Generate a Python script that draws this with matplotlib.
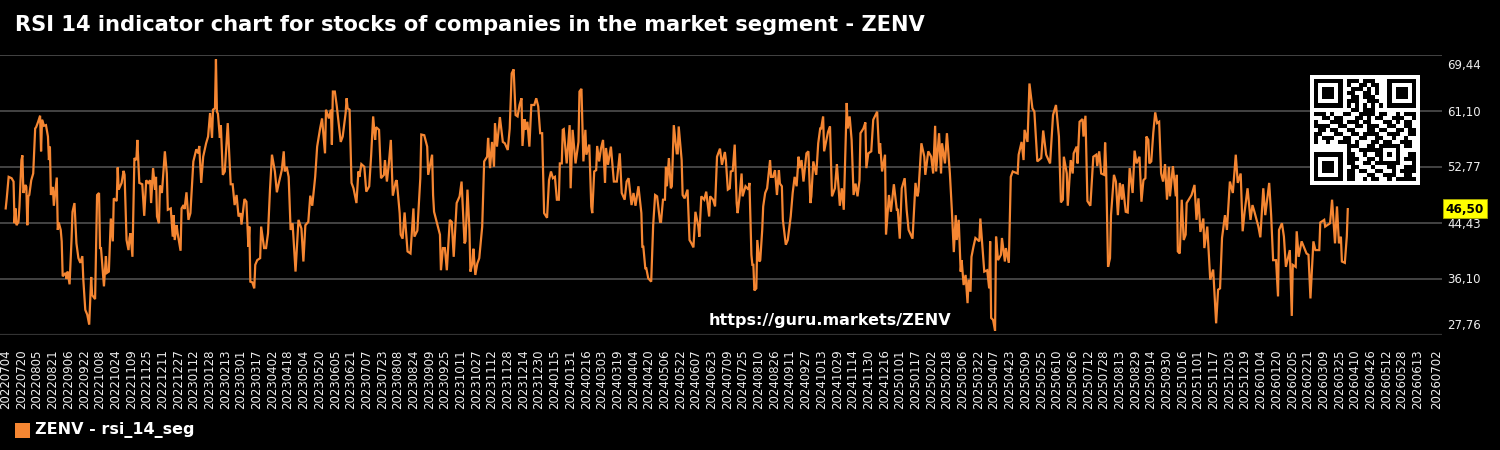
import matplotlib
matplotlib.use("Agg")
import matplotlib.pyplot as plt
from matplotlib.patches import Rectangle
import numpy as np
import pandas as pd

title = "RSI 14 indicator chart for stocks of companies in the market segment - ZENV"
legend_label = "ZENV - rsi_14_seg"
url_text = "https://guru.markets/ZENV"

start_date = "20220704"

# days since start_date
days = [
    0,1,3,6,8,9,10,11,13,14,
    16,17,18,20,21,22,23,24,26,28,
    30,31,33,35,36,37,39,41,43,44,
    45,46,48,49,52,53,54,56,57,58,
    61,62,63,65,67,68,70,72,74,76,
    78,79,81,83,85,87,88,91,93,95,
    96,97,100,102,103,105,107,109,110,113,
    114,115,118,120,121,123,125,126,127,129,
    131,133,134,136,139,141,143,145,147,148,
    150,152,153,154,156,157,159,162,164,165,
    168,170,171,172,174,175,178,179,181,182,
    184,186,188,190,191,194,196,197,199,201,
    204,206,208,210,211,213,214,215,216,218,
    219,221,223,226,229,231,233,235,237,239,
    240,243,245,247,248,249,251,253,254,256,
    259,260,263,265,267,269,271,274,276,278,
    281,283,284,286,288,290,292,295,298,301,
    303,305,308,310,312,315,317,320,322,325,
    326,329,331,332,333,335,337,338,341,343,
    346,347,348,350,352,354,357,359,
    360,362,365,367,370,372,374,376,377,380,
    382,385,386,388,390,392,394,397,398,401,
    402,404,406,409,412,415,416,419,422,423,
    426,429,430,434,435,436,439,442,443,445,
    447,449,452,454,456,459,462,464,467,468,
    470,472,473,475,476,478,480,482,485,487,
    490,491,493,495,497,498,500,503,506,508,
    511,513,515,517,519,521,523,525,526,528,
    529,531,533,535,538,540,542,544,546,548,
    551,553,555,557,559,561,563,564,566,567,
    568,571,574,575,577,580,583,584,586,588,
    590,591,594,596,597,599,601,602,604,606,
    608,610,611,613,616,619,622,625,627,630,
    632,634,637,639,641,644,647,648,649,651,
    652,654,657,659,661,663,666,667,669,671,
    672,673,675,677,678,680,683,684,685,688,
    689,691,694,696,698,700,702,705,706,708,
    711,713,716,717,720,722,724,
    727,729,732,733,735,737,738,740,742,744,
    745,747,749,750,753,756,757,759,760,761,
    762,764,765,767,768,770,771,773,775,778,
    779,781,783,785,787,788,790,791,794,796,
    799,801,803,805,807,808,810,812,815,817,
    819,820,822,825,827,829,830,832,833,837,
    839,841,844,846,849,851,853,856,857,859,
    861,863,865,867,869,870,873,875,876,878,
    881,883,887,889,890,892,895,896,899,901,
    904,907,908,910,912,915,917,919,923,926,
    928,929,932,935,936,939,942,944,946,947,
    950,952,953,956,958,961,963,965,967,968,
    970,972,973,975,977,979,980,982,983,985,
    987,991,992,996,999,1001,1002,1003,1005,1007,
    1008,1010,1013,1014,1017,1018,1021,1023,1025,1030,
    1031,1034,1036,1037,1040,1042,1045,1047,1050,1054,
    1056,1059,1063,1066,1069,1072,1074,1076,1077,1080,
    1081,1084,1086,1087,1090,1091,
    1093,1096,1097,1099,1101,1104,1107,1110,1111,1113,
    1115,1118,1119,1120,1122,1124,1125,1128,1130,1132,
    1134,1136,1137,1140,1142,1144,1147,1149,1151,1154,
    1156,1158,1160,1161,1163,1164,1166,1168,1170,1172,
    1174,1176,1178,1180,1182,1184,1185,1188,1191,1192,
    1193,1195,1197,1199,1201,1202,1207,1210,1212,1214,
    1216,1219,1220,1223,1226,1229,1231,1232,1234,1236,
    1238,1241,1243,1246,1249,1252,1254,1257,1259,1261,
    1264,1267,1269,1271,1275,1277,1280,1282,1286,1288,
    1290,1293,1295,1296,1299,1301,1303,1307,1309,1310,
    1313,1314,1316,1319,1324,1326,1328,1331,1333,1337,
    1338,1342,1343,1348,1350,1353,1355,1357,1359,1360,
    1363,1365,1366,
]

rsi_14_seg = [
    46.6,48.0,51.3,51.1,50.6,44.4,46.6,44.1,44.6,46.9,
    53.8,54.5,48.9,50.1,49.8,44.1,48.4,48.6,50.8,51.8,
    58.5,58.7,59.5,60.4,55.1,59.8,58.9,59.0,57.3,53.8,
    55.8,48.6,49.8,47.0,51.2,43.4,44.5,43.4,41.7,36.5,
    37.0,36.1,37.2,35.3,41.9,46.1,47.4,41.4,39.2,38.5,
    39.5,36.0,31.5,30.8,29.3,36.4,33.7,33.1,48.6,48.9,
    40.7,40.7,35.0,39.5,37.0,37.2,45.1,41.7,48.1,47.7,
    52.7,49.4,50.4,52.2,51.6,41.9,40.4,42.2,42.9,39.4,
    54.1,53.8,56.8,50.4,50.2,45.5,50.8,50.4,50.8,47.4,
    52.6,49.4,51.3,45.4,44.4,50.0,48.9,55.1,51.8,46.4,
    46.6,42.4,45.6,41.9,44.1,42.9,40.3,46.6,47.1,46.5,
    49.0,44.9,45.9,51.1,53.6,55.4,54.8,55.9,50.4,54.3,
    56.3,57.3,60.8,57.1,61.3,61.5,68.8,61.0,60.7,57.1,
    59.0,51.6,52.1,59.3,50.2,50.2,47.1,48.6,45.4,45.9,
    44.2,48.0,47.6,40.9,43.9,35.7,35.6,34.7,38.2,38.9,
    39.2,43.9,40.7,40.7,42.9,49.4,54.6,52.1,49.0,50.4,
    52.3,55.1,52.1,52.8,51.3,43.4,44.4,37.2,44.9,43.6,
    38.7,44.1,44.6,48.5,47.0,51.3,55.8,58.5,60.0,54.8,
    61.3,60.0,61.3,56.1,64.0,64.0,61.8,60.5,56.5,57.3,
    60.8,63.0,61.5,61.3,50.4,49.6,47.4,52.1,
    51.3,53.2,52.8,49.1,49.9,54.6,60.3,56.8,58.7,58.3,
    51.1,51.6,53.8,50.6,53.3,56.8,48.5,50.6,50.8,45.9,
    42.7,42.1,46.0,40.2,39.9,46.6,42.4,43.3,51.1,57.6,
    57.5,55.8,51.6,54.6,48.6,46.1,44.4,42.7,37.4,40.7,
    40.7,37.4,44.9,44.6,39.4,47.4,48.4,50.6,41.4,41.7,
    49.4,43.4,37.2,38.4,40.6,36.7,38.4,39.2,43.9,53.6,
    54.3,57.1,52.6,56.5,52.8,59.3,55.8,60.2,56.5,56.3,
    55.3,58.5,66.7,67.3,60.5,60.3,62.0,63.0,55.9,59.9,
    58.3,59.5,55.8,62.0,62.0,63.0,61.8,57.8,57.8,45.9,
    45.2,50.8,52.1,51.1,51.3,47.9,47.9,53.3,53.3,58.3,
    58.4,53.3,59.0,49.6,58.3,53.3,56.5,64.0,64.4,53.6,
    58.3,54.6,56.1,46.9,45.9,52.1,52.3,55.9,53.6,55.6,
    56.8,50.4,55.6,53.1,55.8,50.6,50.6,54.8,48.9,47.9,
    50.6,51.1,47.1,48.9,47.0,49.9,45.9,40.9,40.9,37.7,
    37.7,36.2,35.7,44.1,48.6,48.4,44.6,44.6,47.9,47.9,
    52.8,49.9,54.1,49.6,49.9,59.0,54.8,54.8,58.8,53.8,
    48.6,48.1,49.4,41.9,41.4,40.8,46.1,43.9,42.4,48.4,
    47.9,49.1,45.4,48.4,47.9,46.9,54.3,
    55.5,53.1,55.0,53.8,49.4,49.6,52.1,52.2,56.1,47.4,
    45.9,48.4,51.8,48.4,49.9,49.4,50.4,39.7,38.2,38.2,
    34.4,34.7,41.9,38.7,38.9,43.4,46.9,48.9,49.6,53.8,
    51.3,51.3,52.3,48.6,52.3,50.3,49.9,44.9,41.2,41.9,
    45.4,48.9,51.3,49.9,54.3,52.6,53.8,50.6,54.8,55.1,
    47.4,48.4,53.6,51.6,56.3,58.5,58.5,60.3,55.1,58.0,
    58.8,48.4,49.6,53.2,47.0,49.6,46.4,62.3,58.5,60.3,
    56.8,48.6,50.3,48.4,50.8,57.8,58.5,59.4,52.6,54.8,
    55.1,59.8,61.0,54.8,56.3,52.1,54.6,42.7,48.6,46.1,
    50.2,46.4,46.4,42.1,49.6,51.1,46.4,43.4,42.1,50.4,
    48.4,49.1,56.3,54.3,51.6,55.1,54.3,51.8,58.9,52.1,
    57.8,51.8,56.3,53.3,57.8,51.8,46.4,40.1,45.6,41.9,
    44.9,37.2,38.9,35.2,36.7,32.5,36.0,34.2,39.4,40.9,
    42.2,41.7,45.1,37.2,37.4,34.7,41.7,30.3,30.0,28.4,
    42.4,38.9,39.7,42.2,38.7,40.7,38.5,51.3,52.1,51.8,
    54.6,56.5,53.8,58.3,56.5,65.2,61.5,61.0,53.6,54.1,
    58.2,54.6,53.3,60.5,62.0,57.3,47.5,47.9,54.3,51.8,
    47.0,53.8,51.8,54.8,55.8,53.3,
    59.5,59.9,57.3,60.4,47.7,47.0,54.3,54.6,52.9,55.1,
    51.8,51.6,56.4,52.8,37.9,39.2,45.6,51.6,50.6,45.6,
    50.4,47.9,50.2,46.1,46.0,52.6,48.9,55.2,53.3,54.3,
    47.6,50.8,51.1,57.3,56.8,53.3,53.6,57.8,60.9,59.3,
    59.5,51.8,50.6,53.2,47.9,52.8,48.4,52.9,48.4,51.6,
    40.2,39.9,47.9,41.9,42.7,47.4,48.6,50.1,44.9,48.1,
    43.1,45.1,40.7,43.9,36.0,37.5,32.2,29.5,34.5,34.7,
    42.2,45.6,43.4,50.6,48.9,54.6,50.4,51.8,43.2,46.1,
    49.6,44.9,47.1,46.1,43.9,42.3,49.6,45.6,50.4,45.6,
    38.9,38.9,33.5,43.4,44.4,42.4,37.9,40.4,30.6,38.2,
    37.9,43.2,39.4,41.7,39.9,39.7,33.2,41.7,40.4,40.4,
    44.5,44.9,43.9,44.4,47.9,41.4,46.9,41.4,42.4,38.7,
    38.5,42.4,46.5,
]

tick_labels = [
    "20220704","20220720","20220805","20220821","20220906","20220922","20221008","20221024",
    "20221109","20221125","20221211","20221227","20230112","20230128","20230213","20230301",
    "20230317","20230402","20230418","20230504","20230520","20230605","20230621","20230707",
    "20230723","20230808","20230824","20230909","20230925","20231011","20231027","20231112",
    "20231128","20231214","20231230","20240115","20240131","20240216","20240303","20240319",
    "20240404","20240420","20240506","20240522","20240607","20240623","20240709","20240725",
    "20240810","20240826","20240911","20240927","20241013","20241029","20241114","20241130",
    "20241216","20250101","20250117","20250202","20250218","20250306","20250322","20250407",
    "20250423","20250509","20250525","20250610","20250626","20250712","20250728","20250813",
    "20250829","20250914","20250930","20251016","20251101","20251117","20251203","20251219",
    "20260104","20260120","20260205","20260221","20260309","20260325","20260410","20260426",
    "20260512","20260528","20260613","20260702",
]

level_values = [69.44, 61.10, 52.77, 44.43, 36.10, 27.76]
level_labels = ["69,44", "61,10", "52,77", "44,43", "36,10", "27,76"]
last_value = 46.50
last_label = "46,50"

# link code shown top right, 25 x 25 modules
qr_rows = [
    "1111111011101110001111111",
    "1000001010011011001000001",
    "1011101001110101001011101",
    "1011101011001101001011101",
    "1011101001101110001011101",
    "1000001011100111001000001",
    "1111111010101010101111111",
    "0000000001101110000000000",
    "1110100110011110110010111",
    "0011011000110101100111001",
    "1000111011101100011010110",
    "1111001100110111001100110",
    "0110110011000110110011011",
    "1100011001101111001110011",
    "1011100110011001100100100",
    "1001001110100011011001110",
    "0000000011100110111110110",
    "0000000010011111100010000",
    "1111111011001001101010011",
    "1000001011100110100010111",
    "1011101011001101111110001",
    "1011101001100010001100111",
    "1011101011011001100101111",
    "1000001011000110011100110",
    "1111111011001011001011111",
]

line_color = "#f58632"
grid_color = "#555555"
text_color = "#eeeeee"

W, H = 1500, 450
fig = plt.figure(figsize=(W / 100, H / 100), dpi=100, facecolor="black")
ax = fig.add_axes([0, (H - 335) / H, 1442 / W, 280 / H], facecolor="black")

x_dates = pd.to_datetime(tick_labels, format="%Y%m%d")
# the label row runs a touch tighter than the calendar
tick_pos = (x_dates - pd.to_datetime(start_date, format="%Y%m%d")).days * 0.998

for v in level_values[:-1]:
    ax.axhline(v, color=grid_color, lw=1.1, zorder=1)
ax.axhline(level_values[-1], color="#333333", lw=1.6, zorder=1)

ax.plot(days, rsi_14_seg, color=line_color, lw=1.6, zorder=3, solid_joinstyle="miter")

ax.set_xlim(-5.8, 1461.9)
ax.set_ylim(level_values[-1], level_values[0])
for s in ax.spines.values():
    s.set_visible(False)
ax.set_yticks([])
ax.set_xticks(tick_pos)
ax.set_xticklabels(tick_labels, rotation=90, fontsize=8.5, color=text_color)
ax.tick_params(axis="x", length=0, pad=10.4)

# right hand level labels, the outer two sit inside the band
shifts = [-10, -1, -1, -1, -1, 10]
for v, lab, dy in zip(level_values, level_labels, shifts):
    ax.annotate(lab, xy=(1, v), xycoords=("axes fraction", "data"), xytext=(5, dy),
                textcoords="offset pixels", color=text_color, fontsize=8.5,
                ha="left", va="center", annotation_clip=False)

# badge with the latest reading, sits behind the axes text
fig.add_artist(Rectangle((1443 / W, 1 - 218 / H), 44 / W, 19 / H, transform=fig.transFigure,
                         fc="#ffff00", ec="#a8a800", lw=0.6, zorder=-1))
ax.annotate(last_label, xy=(1, last_value), xycoords=("axes fraction", "data"),
            xytext=(23, 0), textcoords="offset pixels", color="black",
            fontsize=8.7, fontweight="bold", ha="center", va="center",
            annotation_clip=False, zorder=8)

fig.text(15 / W, 1 - 25 / H, title, color="white", fontsize=15.15, fontweight="bold", va="center")
fig.text(709 / W, 1 - 320 / H, url_text, color="white", fontsize=11.5, fontweight="bold", va="center")

fig.add_artist(Rectangle((15 / W, 1 - 438 / H), 15 / W, 15 / H, transform=fig.transFigure,
                         fc=line_color, ec="none"))
fig.text(35 / W, 1 - 430 / H, legend_label, color="white", fontsize=11.5, fontweight="bold", va="center")

qr = np.array([[int(c) for c in row] for row in qr_rows])
bg = fig.add_axes([1310 / W, 1 - 185 / H, 110 / W, 110 / H], facecolor="white", zorder=5)
bg.set_xticks([])
bg.set_yticks([])
for s in bg.spines.values():
    s.set_visible(False)
qax = fig.add_axes([1314 / W, 1 - 181 / H, 102 / W, 102 / H], zorder=6)
qax.imshow(qr, cmap="gray_r", vmin=0, vmax=1, interpolation="nearest", aspect="auto")
qax.axis("off")

fig.savefig("out.png", dpi=100, facecolor="black")
